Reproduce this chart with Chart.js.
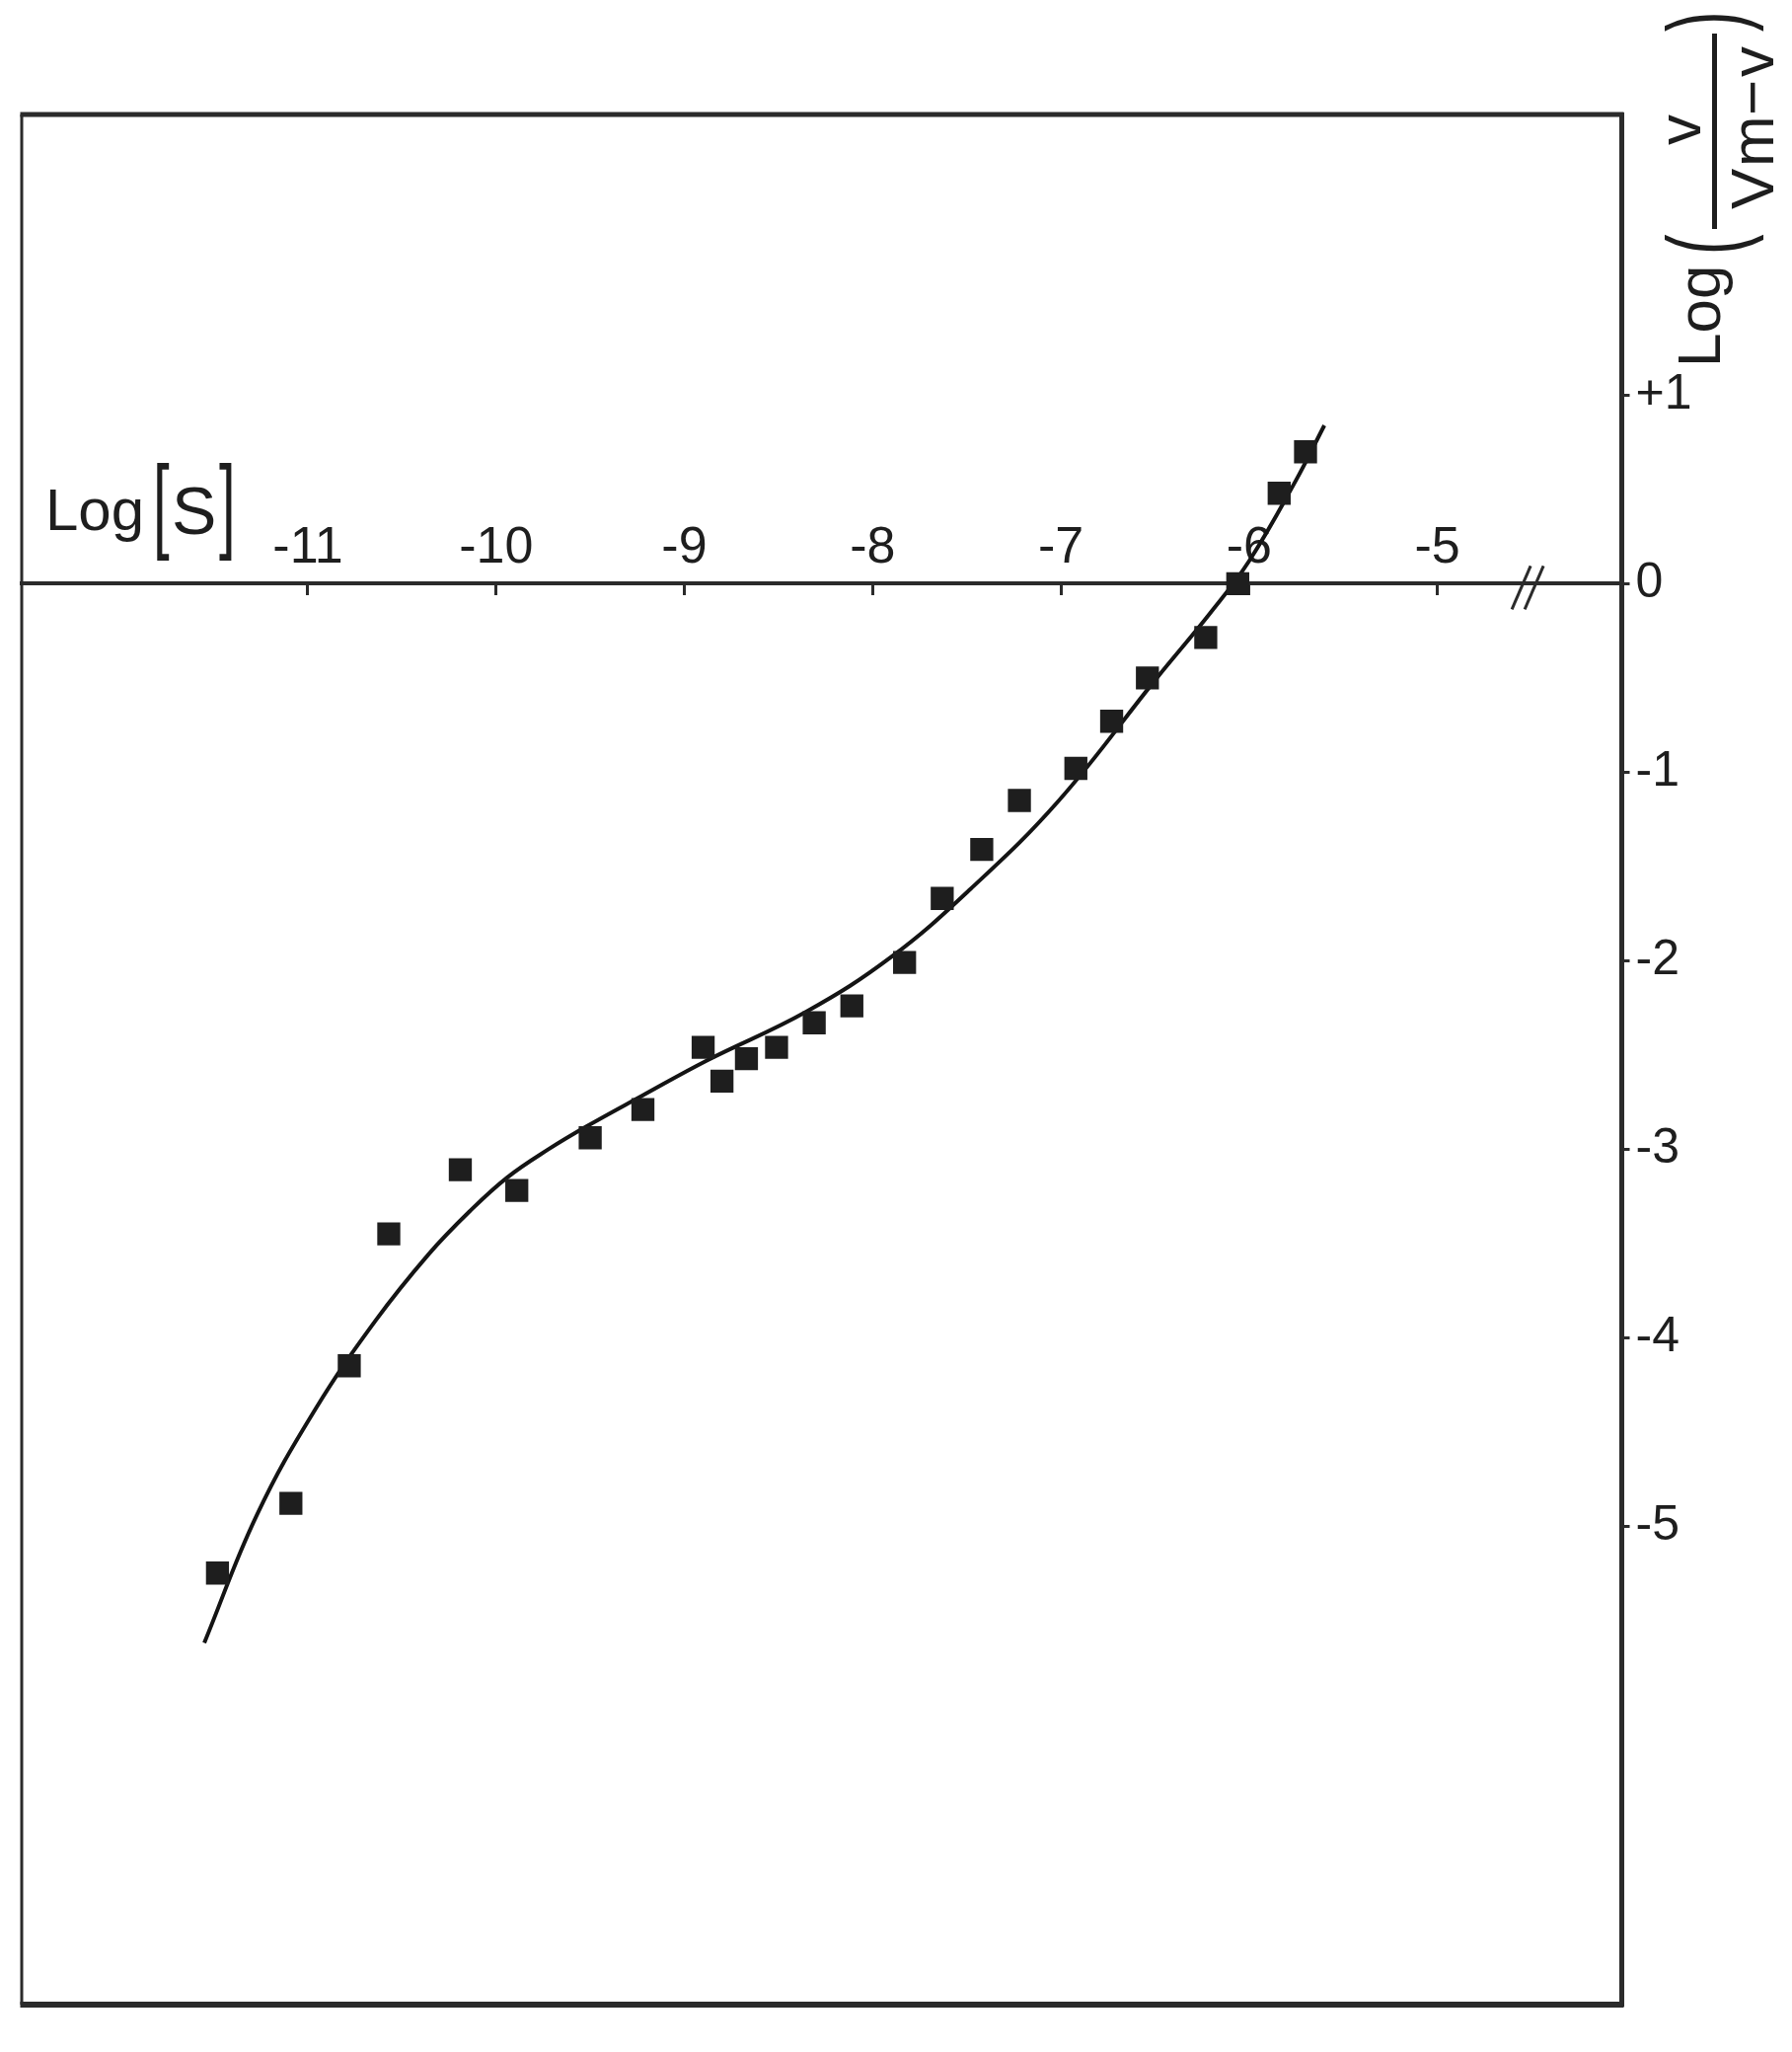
<!DOCTYPE html>
<html>
<head>
<meta charset="utf-8">
<script src="https://cdn.jsdelivr.net/npm/chart.js@4.4.1/dist/chart.umd.min.js"></script>
<style>
  html, body { margin: 0; padding: 0; background: #ffffff; }
  #wrap { position: relative; width: 1816px; height: 2079px; }
</style>
</head>
<body>
<div id="wrap"><canvas id="chart"></canvas></div>
<script>
// Hill-type plot: log(v/(Vm-v)) against log[S], measured points + fitted curve.

const X_TICKS = [-11, -10, -9, -8, -7, -6, -5];
const X_TICK_LABELS = ["-11", "-10", "-9", "-8", "-7", "-6", "-5"];
const Y_TICKS = [1, 0, -1, -2, -3, -4, -5];
const Y_TICK_LABELS = ["+1", "0", "-1", "-2", "-3", "-4", "-5"];

// measured points
const LOG_S = [-11.48, -11.09, -10.78, -10.57, -10.19, -9.89, -9.50, -9.22, -8.90, -8.80,
               -8.67, -8.51, -8.31, -8.11, -7.83, -7.63, -7.42, -7.22, -6.92, -6.73,
               -6.54, -6.23, -6.06, -5.84, -5.70];
const LOG_RATIO = [-5.25, -4.88, -4.15, -3.45, -3.11, -3.22, -2.94, -2.79, -2.46, -2.64,
                   -2.52, -2.46, -2.33, -2.24, -2.01, -1.67, -1.41, -1.15, -0.98, -0.73,
                   -0.50, -0.285, 0.00, 0.48, 0.70];

// fitted curve
const FIT_LOG_S = [-11.55, -11.27, -10.96, -10.64, -10.36, -10.14, -9.94, -9.72, -9.52, -9.23, -8.88,
                   -8.35, -7.90, -7.48, -7.01, -6.49, -6.21, -6.00, -5.75, -5.60];
const FIT_LOG_RATIO = [-5.62, -4.94, -4.38, -3.91, -3.56, -3.33, -3.15, -3.00, -2.88, -2.72, -2.53,
                       -2.27, -1.98, -1.62, -1.15, -0.50, -0.16, 0.12, 0.55, 0.84];

const X_MIN = -12.52, X_MAX = -4.02;
const Y_MIN = -7.54, Y_MAX = 2.49;
const AXIS_BREAK_AT = -4.52;

const INK = "#1e1e1e";
const LINE = "#2b2b2b";
const FONT = "'Liberation Sans', Arial, Helvetica, sans-serif";

const pts = (xs, ys) => xs.map((x, i) => ({ x, y: ys[i] }));

// frame (top/left/bottom), the "//" axis break and the two axis titles
const decorations = {
  id: "decorations",
  afterDraw(chart) {
    const { ctx, chartArea: a, scales } = chart;
    ctx.save();
    ctx.strokeStyle = LINE;
    ctx.lineCap = "butt";

    ctx.lineWidth = 5;
    ctx.beginPath(); ctx.moveTo(a.left - 1.5, a.top); ctx.lineTo(a.right + 2, a.top); ctx.stroke();
    ctx.lineWidth = 3;
    ctx.beginPath(); ctx.moveTo(a.left, a.top); ctx.lineTo(a.left, a.bottom); ctx.stroke();
    ctx.lineWidth = 6;
    ctx.beginPath(); ctx.moveTo(a.left - 1.5, a.bottom); ctx.lineTo(a.right + 2, a.bottom); ctx.stroke();

    // axis break
    const bx = scales.x.getPixelForValue(AXIS_BREAK_AT);
    const by = scales.y.getPixelForValue(0);
    ctx.lineWidth = 3;
    [-7, 6].forEach((dx) => {
      ctx.beginPath();
      ctx.moveTo(bx + dx - 9, by + 26);
      ctx.lineTo(bx + dx + 10, by - 18);
      ctx.stroke();
    });

    ctx.fillStyle = INK;
    ctx.textBaseline = "alphabetic";
    ctx.textAlign = "left";

    // Log[S]
    ctx.font = `60px ${FONT}`;
    ctx.fillText("Log", 46, 537);
    ctx.save(); ctx.translate(155, 546); ctx.scale(1, 1.75); ctx.fillText("[", 0, 0); ctx.restore();
    ctx.font = `68px ${FONT}`;
    ctx.fillText("S", 174, 541);
    ctx.font = `60px ${FONT}`;
    ctx.save(); ctx.translate(222, 546); ctx.scale(1, 1.75); ctx.fillText("]", 0, 0); ctx.restore();

    // Log( v / (Vm − v) ), rotated, reading upwards
    ctx.save();
    ctx.translate(1743, 372);
    ctx.rotate(-Math.PI / 2);
    ctx.font = `62px ${FONT}`;
    ctx.fillText("Log", 0, 0);
    ctx.save(); ctx.translate(114, 22); ctx.scale(1, 1.73); ctx.fillText("(", 0, 0); ctx.restore();
    ctx.fillRect(140, -8, 198, 5);
    ctx.fillText("v", 225, -20);
    ctx.fillText("V", 160, 54);
    ctx.fillText("m", 203, 54);
    ctx.fillText("\u2212", 255, 54);
    ctx.fillText("v", 294, 54);
    ctx.save(); ctx.translate(340, 22); ctx.scale(1, 1.73); ctx.fillText(")", 0, 0); ctx.restore();
    ctx.restore();

    ctx.restore();
  },
};

new Chart(document.getElementById("chart"), {
  type: "scatter",
  data: {
    datasets: [
      {
        label: "measured",
        data: pts(LOG_S, LOG_RATIO),
        pointStyle: "rect",
        pointRadius: 16.5,
        pointHoverRadius: 16.5,
        backgroundColor: INK,
        borderWidth: 0,
      },
      {
        label: "fit",
        data: pts(FIT_LOG_S, FIT_LOG_RATIO),
        showLine: true,
        pointRadius: 0,
        borderColor: "#141414",
        borderWidth: 4,
        tension: 0.4,
        fill: false,
      },
    ],
  },
  options: {
    responsive: true,
    maintainAspectRatio: false,
    devicePixelRatio: 1,
    animation: false,
    layout: { padding: { left: 22, top: 116, right: 0, bottom: 48 } },
    plugins: { legend: { display: false }, tooltip: { enabled: false } },
    scales: {
      x: {
        type: "linear",
        position: { y: 0 },
        min: X_MIN,
        max: X_MAX,
        afterBuildTicks: (scale) => { scale.ticks = X_TICKS.map((v) => ({ value: v })); },
        ticks: {
          color: INK,
          font: { family: FONT, size: 52 },
          padding: -77,
          maxRotation: 0,
          autoSkip: false,
          callback: (v) => X_TICK_LABELS[X_TICKS.indexOf(v)] ?? "",
        },
        grid: { drawOnChartArea: false, drawTicks: true, tickLength: 10, lineWidth: 3, color: LINE },
        border: { display: true, width: 4, color: LINE },
      },
      y: {
        type: "linear",
        position: "right",
        min: Y_MIN,
        max: Y_MAX,
        afterBuildTicks: (scale) => { scale.ticks = Y_TICKS.map((v) => ({ value: v })); },
        afterFit: (scale) => { scale.width = 172.5; },
        ticks: {
          color: INK,
          font: { family: FONT, size: 50 },
          padding: 6,
          autoSkip: false,
          callback: (v) => Y_TICK_LABELS[Y_TICKS.indexOf(v)] ?? "",
        },
        grid: { drawOnChartArea: false, drawTicks: true, tickLength: 8, lineWidth: 3, color: LINE },
        border: { display: true, width: 5, color: LINE },
      },
    },
  },
  plugins: [decorations],
});
</script>
</body>
</html>
